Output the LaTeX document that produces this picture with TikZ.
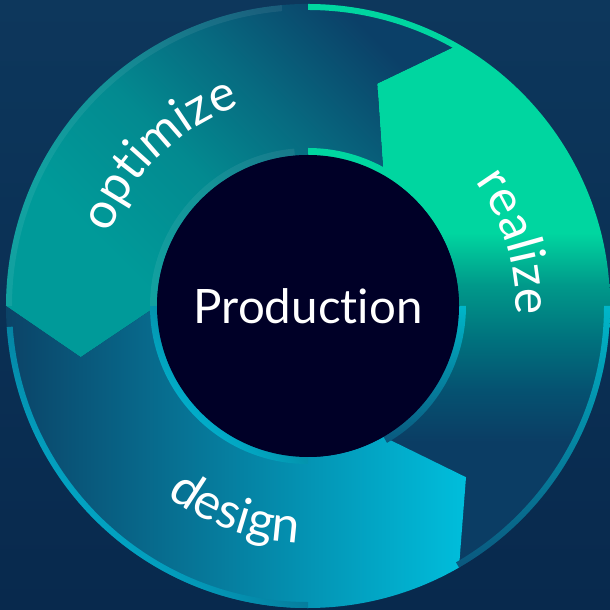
\documentclass[tikz,border=0pt]{standalone}
\usepackage{fontspec}
\setmainfont{Lato}[Ligatures=NoCommon]
\usetikzlibrary{decorations.text}

\definecolor{bgtop}{HTML}{0D375C}
\definecolor{bgbottom}{HTML}{08294D}
\definecolor{hubnavy}{HTML}{000027}
\definecolor{mint}{HTML}{00D6A0}
\definecolor{mintmid}{HTML}{00998A}
\definecolor{mintlow}{HTML}{00737E}
\definecolor{mintdeep}{HTML}{055271}
\definecolor{mintdark}{HTML}{0B3D64}
\definecolor{optteal}{HTML}{009A99}
\definecolor{optlight}{HTML}{038A90}
\definecolor{optmid}{HTML}{076A80}
\definecolor{optdark}{HTML}{0B4068}
\definecolor{sky}{HTML}{00BEDC}
\definecolor{skymid}{HTML}{037C9E}
\definecolor{skydark}{HTML}{0B4367}
\definecolor{edgecyan}{HTML}{00B6C9}
\definecolor{edgefade}{HTML}{0A587E}
\definecolor{edgefaint}{HTML}{0A4466}

\pgfdeclareverticalshading{realizefade}{100bp}{color(0bp)=(mintdark); color(37bp)=(mintdark);
  color(42bp)=(mintdeep); color(47bp)=(mintlow); color(52bp)=(mintmid); color(57bp)=(mint);
  color(100bp)=(mint)}
\pgfdeclarehorizontalshading{optimizefade}{100bp}{color(0bp)=(optteal); color(32bp)=(optteal);
  color(46bp)=(optlight); color(58bp)=(optmid); color(72bp)=(optdark); color(100bp)=(optdark)}

\def\rin{1.51}
\def\rout{3.02}
\def\rmid{2.33}
\def\tip{12.7}
\newcommand{\ringband}[2]{(#1:\rout) arc[start angle=#1, end angle=#2, radius=\rout]
  -- (#2+\tip:\rmid) -- (#2:\rin) arc[start angle=#2, end angle=#1, radius=\rin]
  -- (#1+\tip:\rmid) -- cycle}
\newcommand{\ringstrip}[4]{(#1:#4) arc[start angle=#1, end angle=#2, radius=#4]
  -- (#2:#3) arc[start angle=#2, end angle=#1, radius=#3] -- cycle}
\newcommand{\ringfont}{\fontsize{14.2}{17}\selectfont}

\begin{document}
\begin{tikzpicture}[
    ringword/.style={decorate, decoration={text along path, text align=center,
      text color=white, text={|\ringfont|#1}}},
    hub/.style={circle, fill=hubnavy, minimum size=3.02cm, inner sep=0pt,
      text=white, font=\fontsize{13.5}{16}\selectfont}
  ]
    \useasboundingbox (-3.08,-3.04) rectangle (3.02,3.06);
    \shade[top color=bgtop, bottom color=bgbottom] (-3.08,-3.04) rectangle (3.02,3.06);

    % the three arrows of the cycle
    \path[shading=realizefade] \ringband{-60}{60};
    \path[shading=optimizefade, shading angle=45] \ringband{60}{180};
    \path[left color=skydark, middle color=skymid, right color=sky] \ringband{180}{300};

    % thin edges along the rims
    \path[fill=mint] \ringstrip{60}{90}{2.96}{\rout};
    \path[fill=mint] \ringstrip{60}{90}{1.45}{1.58};
    \path[top color=edgecyan, bottom color=edgefade] \ringstrip{-60}{0}{2.96}{\rout};
    \path[top color=edgecyan, bottom color=edgefade] \ringstrip{-60}{0}{1.45}{1.58};
    \path[left color=edgefaint, right color=sky, shading angle=-45] \ringstrip{184}{270}{2.96}{\rout};
    \path[left color=optmid, right color=sky, shading angle=-45] \ringstrip{180}{270}{1.45}{1.58};
    \path[fill=white, fill opacity=0.07] \ringstrip{95}{180}{2.96}{\rout};
    \path[fill=white, fill opacity=0.07] \ringstrip{95}{180}{1.45}{1.58};

    \path[ringword=optimize] (174.4:2.11) arc[start angle=174.4, end angle=94.4, radius=2.11];
    \path[ringword=realize] (57:2.08) arc[start angle=57, end angle=-23, radius=2.08];
    \path[ringword=design] (210.5:2.37) arc[start angle=210.5, end angle=290.5, radius=2.37];

    \node[hub] (hub) at (0,0) {Production};
\end{tikzpicture}
\end{document}
